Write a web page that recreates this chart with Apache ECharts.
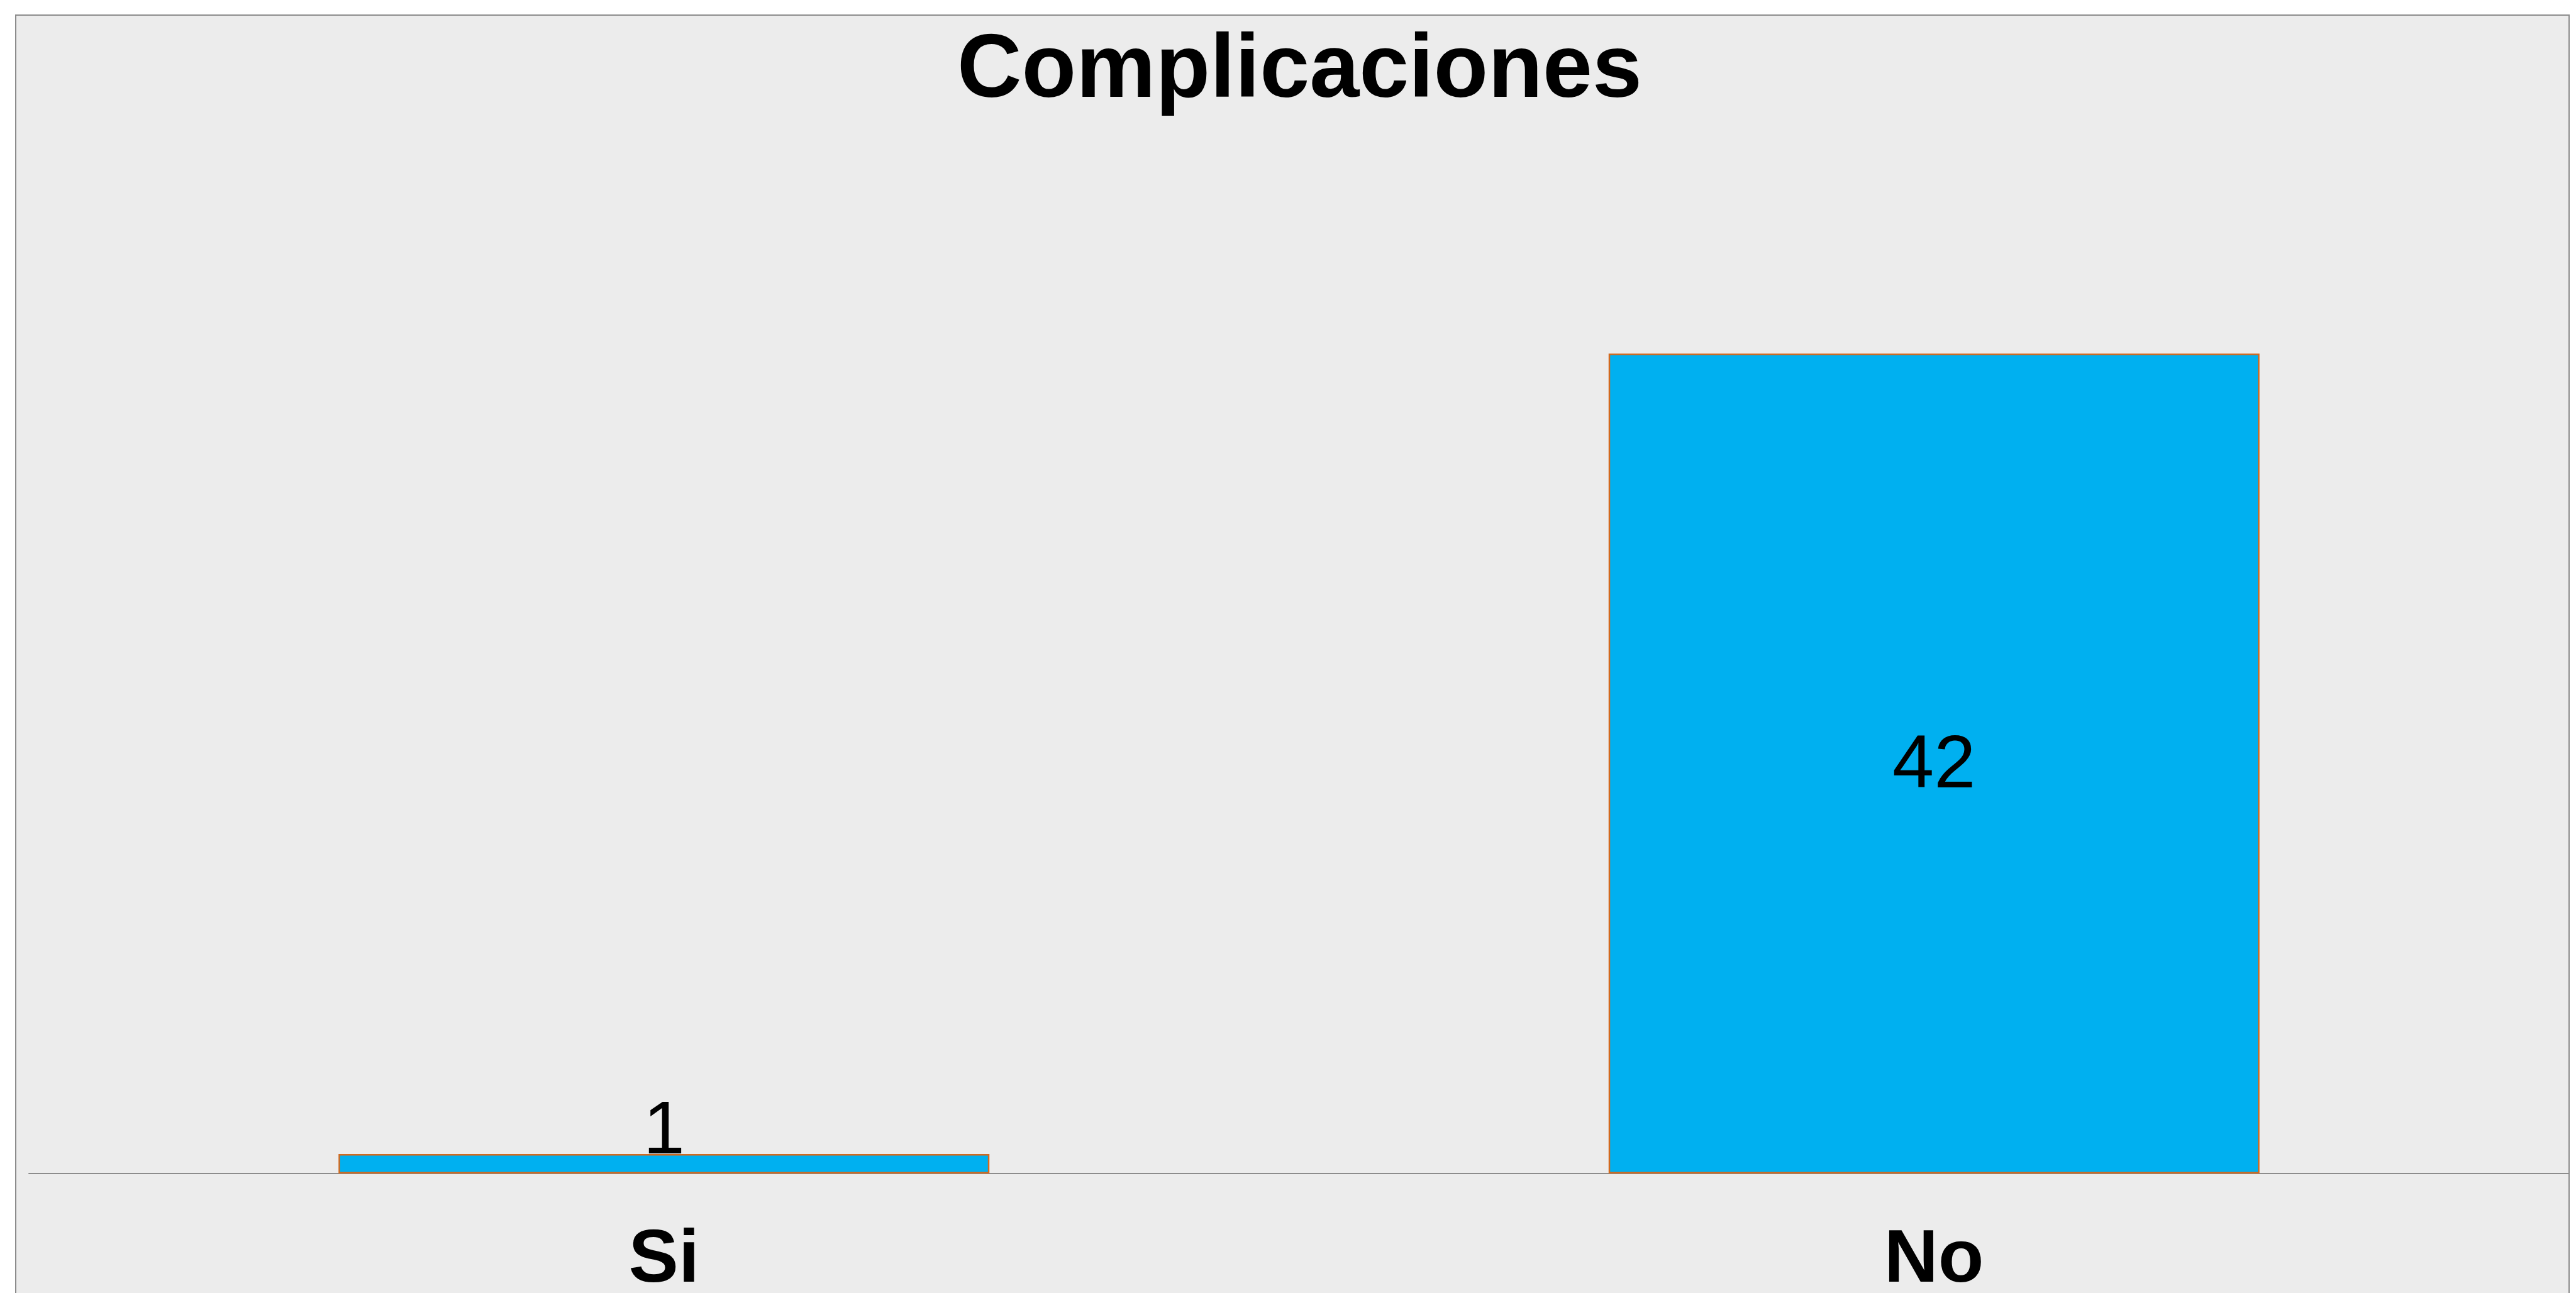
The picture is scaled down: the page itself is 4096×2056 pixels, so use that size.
<!DOCTYPE html>
<html>
<head>
<meta charset="utf-8">
<script src="https://cdn.jsdelivr.net/npm/echarts@6/dist/echarts.min.js"></script>
<style>
html,body{margin:0;padding:0;background:#ffffff;}
#chart{width:4096px;height:2056px;}
</style>
</head>
<body>
<div id="chart"></div>
<script>
const titleText = 'Complicaciones';
const categories = ['Si', 'No'];
const values = [1, 42];

const chart = echarts.init(document.getElementById('chart'), null, {renderer: 'canvas'});
const FONT = '"Liberation Sans", Arial, sans-serif';

const seriesData = values.map(function (v, i) {
  return {
    value: v,
    label: i === 0
      ? {position: 'top', distance: -26}
      : {position: 'inside', offset: [0, 5]}
  };
});

chart.setOption({
  backgroundColor: '#ffffff',
  animation: false,
  graphic: [{
    type: 'rect',
    z: -10,
    silent: true,
    shape: {x: 25, y: 24, width: 4060, height: 2100},
    style: {fill: '#ececec', stroke: '#8c8c8c', lineWidth: 2}
  }],
  title: {
    text: titleText,
    left: 1522,
    top: 44,
    padding: 0,
    textStyle: {fontFamily: FONT, fontWeight: 'bold', fontSize: 142, color: '#000000'}
  },
  grid: {left: 46, right: 11, top: 314, bottom: 190, containLabel: false, outerBoundsMode: 'none'},
  xAxis: {
    type: 'category',
    data: categories,
    axisTick: {show: false},
    axisLine: {show: true, lineStyle: {color: '#8c8c8c', width: 2}},
    axisLabel: {margin: 80, fontFamily: FONT, fontWeight: 'bold', fontSize: 119, color: '#000000'},
    splitLine: {show: false}
  },
  yAxis: {
    type: 'value',
    min: 0,
    max: 50,
    interval: 10,
    show: false,
    splitLine: {show: false}
  },
  series: [{
    type: 'bar',
    data: seriesData,
    barWidth: 1035,
    itemStyle: {color: '#00b0f0', borderColor: '#d2691e', borderWidth: 2.5},
    label: {show: true, fontFamily: FONT, fontSize: 119, color: '#000000'}
  }]
});
</script>
</body>
</html>
